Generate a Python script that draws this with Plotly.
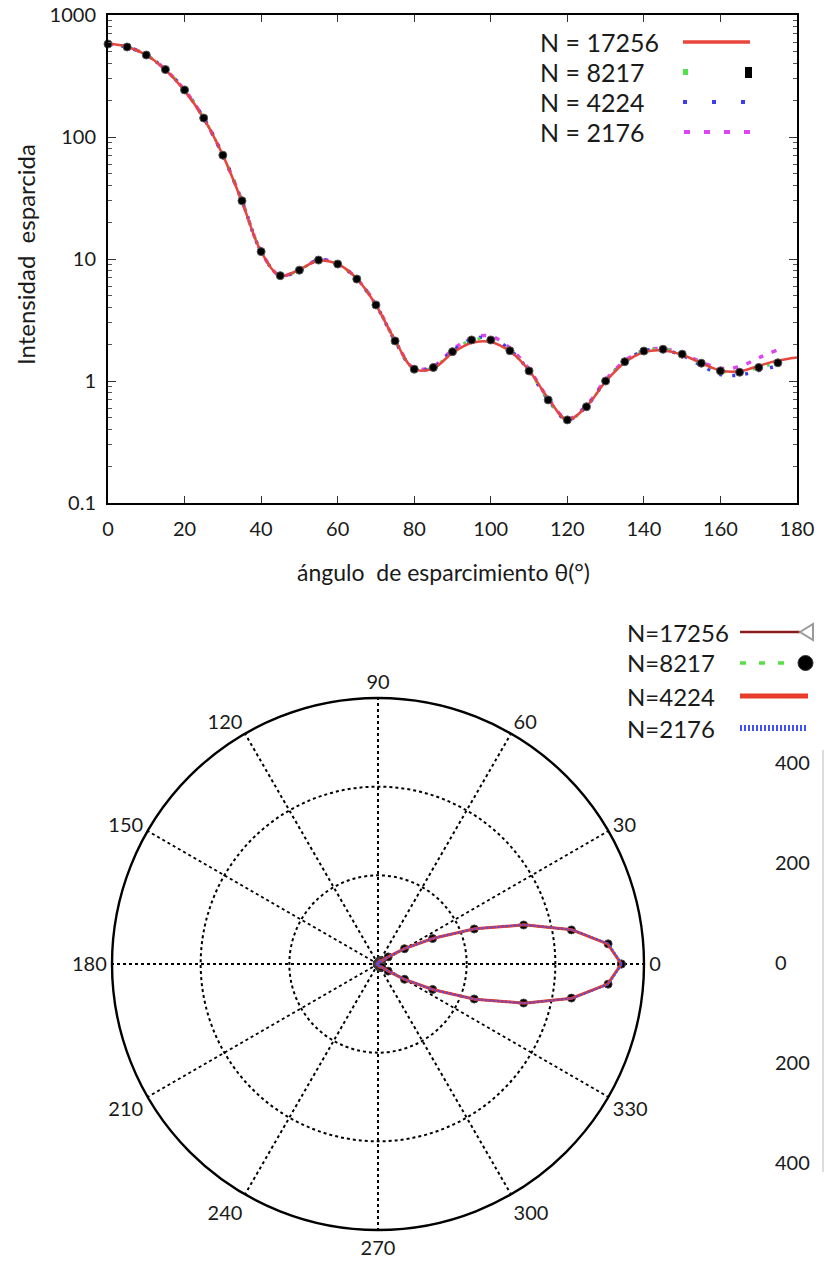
import plotly.graph_objects as go

W, H = 825, 1262

# ---------------- data ----------------
angles = list(range(0, 185, 5))          # 0..180 deg
angles_175 = list(range(0, 180, 5))      # 0..175 deg

i_17256 = [580, 550, 470, 355, 240, 142, 71, 29.5, 11.5, 7.3, 8.2, 9.7, 9.1, 6.9, 4.2,
           2.15, 1.25, 1.27, 1.70, 2.06, 2.09, 1.75, 1.22, 0.72, 0.48, 0.62, 0.99, 1.42,
           1.72, 1.78, 1.64, 1.40, 1.22, 1.20, 1.33, 1.47, 1.56]
i_8217 = [578, 547, 470, 357, 243, 143, 71, 30, 11.5, 7.3, 8.1, 9.8, 9.1, 6.85, 4.2,
          2.13, 1.25, 1.29, 1.74, 2.17, 2.17, 1.77, 1.21, 0.70, 0.48, 0.615, 1.0, 1.44,
          1.76, 1.82, 1.66, 1.40, 1.21, 1.18, 1.29, 1.41]
i_4224 = [578, 547, 470, 357, 243, 143, 71, 30, 11.5, 7.3, 8.1, 9.8, 9.1, 6.85, 4.2,
          2.13, 1.25, 1.29, 1.76, 2.2, 2.25, 1.8, 1.21, 0.70, 0.48, 0.62, 1.0, 1.44,
          1.76, 1.80, 1.62, 1.34, 1.13, 1.12, 1.22, 1.33]
i_2176 = [578, 547, 470, 357, 243, 143, 71, 30, 11.5, 7.3, 8.2, 9.8, 9.2, 6.9, 4.25,
          2.15, 1.27, 1.32, 1.80, 2.26, 2.33, 1.86, 1.25, 0.72, 0.49, 0.63, 1.02, 1.46,
          1.78, 1.84, 1.68, 1.43, 1.27, 1.31, 1.55, 1.80]

p_angles = angles
p_17256 = [549, 520, 444, 341, 232, 136, 69, 28, 11, 7, 7.8, 9.3, 8.7, 6.6, 4, 2, 1.2,
           1.2, 1.6, 2, 2, 1.7, 1.2, 0.7, 0.46, 0.6, 0.95, 1.37, 1.67, 1.73, 1.58, 1.33,
           1.16, 1.14, 1.26, 1.38, 1.5]
p_8217 = [549, 521, 443, 340, 231, 136, 69, 28, 11, 7, 7.8, 9.3, 8.7, 6.6, 4, 2, 1.2,
          1.2, 1.6, 2, 2, 1.7, 1.2, 0.7, 0.46, 0.6, 0.95, 1.37, 1.67, 1.73, 1.58, 1.33,
          1.16, 1.14, 1.26, 1.38, 1.5]
p_4224 = list(p_17256)
p_2176 = [550, 522, 445, 342, 233, 137, 69, 28, 11, 7, 7.8, 9.3, 8.7, 6.6, 4, 2, 1.2,
          1.2, 1.6, 2, 2, 1.7, 1.2, 0.7, 0.46, 0.6, 0.95, 1.37, 1.67, 1.73, 1.58, 1.33,
          1.16, 1.14, 1.26, 1.38, 1.5]

x_tickvals = list(range(0, 200, 20))
y_tickvals = [0.1, 1, 10, 100, 1000]
y_ticktext = ["0.1", "1", "10", "100", "1000"]
polar_tickvals = list(range(0, 360, 30))
polar_ticktext = [str(v) for v in polar_tickvals]
right_tickvals = [-400, -200, 0, 200, 400]
right_ticktext = ["400", "200", "0", "200", "400"]

legend_top = ["N = 17256", "N = 8217", "N = 4224", "N = 2176"]
legend_bottom = ["N=17256", "N=8217", "N=4224", "N=2176"]

FONT = "Lato"
C_RED = "#e8453c"
C_GREEN = "#55e04a"
C_BLUE = "#3c3cf0"
C_MAG = "#dd44f2"
C_DRED = "#8b1c1c"
C_RED2 = "#e83b2b"
C_BLUE2 = "#4050ff"


def fx(px):
    return px / W


def fy(py):
    return 1 - py / H


fig = go.Figure()

# ---------------- top chart ----------------
fig.add_trace(go.Scatter(x=angles_175, y=i_2176, mode="lines", line=dict(color=C_MAG, width=3.5, dash="5px,9px", shape="spline"),
                         showlegend=False))
fig.add_trace(go.Scatter(x=angles_175, y=i_4224, mode="lines", line=dict(color=C_BLUE, width=3.5, dash="3px,10px", shape="spline"),
                         showlegend=False))
fig.add_trace(go.Scatter(x=angles_175, y=i_8217, mode="lines", line=dict(color=C_GREEN, width=3, dash="3px,12px", shape="spline"),
                         showlegend=False))
fig.add_trace(go.Scatter(x=angles, y=i_17256, mode="lines", line=dict(color=C_RED, width=2.5, shape="spline"),
                         showlegend=False))
fig.add_trace(go.Scatter(x=angles_175, y=i_8217, mode="markers",
                         marker=dict(color="black", size=8, symbol="circle", line=dict(color="#555", width=1)),
                         cliponaxis=False, showlegend=False))

# ---------------- polar chart ----------------
def mirror(theta, r):
    return theta + [-t for t in theta[::-1]], r + r[::-1]


t1, r1 = mirror(p_angles, p_17256)
t2, r2 = mirror(p_angles, p_8217)
t3, r3 = mirror(p_angles, p_4224)
t4, r4 = mirror(p_angles, p_2176)

fig.add_trace(go.Scatterpolar(theta=t1, r=r1, mode="lines", line=dict(color=C_DRED, width=2), showlegend=False))
fig.add_trace(go.Scatterpolar(theta=t2, r=r2, mode="lines+markers", line=dict(color=C_GREEN, width=2, dash="dash"),
                              marker=dict(color="black", size=8, line=dict(color="#444", width=1)), showlegend=False))
fig.add_trace(go.Scatterpolar(theta=t3, r=r3, mode="lines", line=dict(color=C_RED2, width=3), showlegend=False))
fig.add_trace(go.Scatterpolar(theta=t4, r=r4, mode="lines", line=dict(color=C_BLUE2, width=2, dash="2px,2px"), showlegend=False))

# empty trace to carry the right-hand axis
fig.add_trace(go.Scatter(x=[None], y=[None], xaxis="x2", yaxis="y2", showlegend=False, hoverinfo="skip"))

R = 266
CX, CY = 378, 964

fig.update_layout(
    width=W, height=H,
    margin=dict(l=0, r=0, t=0, b=0, autoexpand=False),
    paper_bgcolor="white", plot_bgcolor="white",
    font=dict(family=FONT, color="#1a1a1a", size=20),
    xaxis=dict(domain=[fx(108), fx(797)], anchor="y", range=[0, 180], tickvals=x_tickvals,
               ticks="inside", ticklen=7, tickwidth=1, tickcolor="#333",
               showline=True, linecolor="black", linewidth=2, mirror="allticks",
               showgrid=False, zeroline=False, tickfont=dict(size=20), ticklabelstandoff=7),
    yaxis=dict(domain=[fy(503), fy(15)], anchor="x", type="log", range=[-1, 3],
               tickmode="array", tickvals=y_tickvals, ticktext=y_ticktext,
               ticks="inside", ticklen=8, tickwidth=1, tickcolor="#333",
               minor=dict(ticks="inside", ticklen=4, tickcolor="#555",
                          tickvals=[m * 10 ** k for k in range(-1, 3) for m in range(2, 10)]),
               showline=True, linecolor="black", linewidth=2, mirror="allticks",
               showgrid=False, zeroline=False, tickfont=dict(size=20), ticklabelstandoff=6),
    xaxis2=dict(domain=[fx(760), fx(770)], anchor="y2", visible=False, range=[0, 1]),
    yaxis2=dict(domain=[fy(1172), fy(750)], anchor="free", position=fx(774), side="right",
                range=[-418, 426], tickmode="array", tickvals=right_tickvals, ticktext=right_ticktext,
                showline=False, ticks="", showgrid=False, zeroline=False, tickfont=dict(size=20)),
    polar=dict(
        domain=dict(x=[fx(CX - R), fx(CX + R)], y=[fy(CY + R), fy(CY - R)]),
        bgcolor="white",
        radialaxis=dict(range=[0, 600], tickvals=[200, 400], showticklabels=False, ticks="",
                        showline=False, gridcolor="black", griddash="dot", gridwidth=1.6),
        angularaxis=dict(tickmode="array", tickvals=polar_tickvals, ticktext=polar_ticktext,
                         rotation=0, direction="counterclockwise", showline=True, linecolor="black",
                         linewidth=2.4, gridcolor="black", griddash="dot", gridwidth=1.6, ticks="",
                         tickfont=dict(size=20)),
    ),
)

annotations = []
# axis titles
annotations.append(dict(text="Intensidad  esparcida", x=fx(25), y=fy(255), xref="paper", yref="paper",
                        textangle=-90, showarrow=False, font=dict(size=24), xanchor="center", yanchor="middle"))
annotations.append(dict(text="ángulo  de esparcimiento θ(°)", x=fx(443), y=fy(572), xref="paper", yref="paper",
                        showarrow=False, font=dict(size=23), xanchor="center", yanchor="middle"))

# top legend texts
top_rows = [42, 72, 102, 132]
for txt, yy in zip(legend_top, top_rows):
    annotations.append(dict(text=txt, x=fx(538), y=fy(yy), xref="paper", yref="paper", showarrow=False,
                            xanchor="left", yanchor="middle", font=dict(size=25)))
# bottom legend texts
bot_rows = [632, 663, 696, 728]
for txt, yy in zip(legend_bottom, bot_rows):
    annotations.append(dict(text=txt, x=fx(625), y=fy(yy), xref="paper", yref="paper", showarrow=False,
                            xanchor="left", yanchor="middle", font=dict(size=24)))

shapes = []


def hline(x0, x1, yy, color, width, dash="solid"):
    shapes.append(dict(type="line", xref="paper", yref="paper", x0=fx(x0), x1=fx(x1), y0=fy(yy), y1=fy(yy),
                       line=dict(color=color, width=width, dash=dash)))


# top legend samples
hline(683, 750, top_rows[0], C_RED, 3.5)
shapes.append(dict(type="rect", xref="paper", yref="paper", x0=fx(683), x1=fx(688), y0=fy(top_rows[1] + 3),
                   y1=fy(top_rows[1] - 3), fillcolor=C_GREEN, line=dict(width=0)))
shapes.append(dict(type="rect", xref="paper", yref="paper", x0=fx(745), x1=fx(752), y0=fy(top_rows[1] + 6),
                   y1=fy(top_rows[1] - 5), fillcolor="black", line=dict(width=0)))
hline(683, 748, top_rows[2], C_BLUE, 4, "4px,25px")
hline(684, 752, top_rows[3], C_MAG, 4, "6px,14px")

# bottom legend samples
hline(740, 800, bot_rows[0], C_DRED, 2.5)
shapes.append(dict(type="path", xref="paper", yref="paper",
                   path="M %f %f L %f %f L %f %f Z" % (fx(800), fy(bot_rows[0]), fx(813), fy(bot_rows[0] - 8),
                                                         fx(813), fy(bot_rows[0] + 8)),
                   fillcolor="white", line=dict(color="#999", width=2)))
hline(740, 790, bot_rows[1], C_GREEN, 3.5, "6px,13px")
shapes.append(dict(type="circle", xref="paper", yref="paper", x0=fx(798), x1=fx(813), y0=fy(bot_rows[1] + 7.5),
                   y1=fy(bot_rows[1] - 7.5), fillcolor="black", line=dict(color="#333", width=1)))
hline(740, 808, bot_rows[2], C_RED2, 5)
hline(740, 808, bot_rows[3], C_BLUE2, 6, "2px,2px")

# right-hand axis line
shapes.append(dict(type="line", xref="paper", yref="paper", x0=fx(823), x1=fx(823), y0=fy(750), y1=fy(1172),
                   line=dict(color="#bbbbbb", width=1)))

fig.update_layout(annotations=annotations, shapes=shapes)

fig.write_html("out.html")
